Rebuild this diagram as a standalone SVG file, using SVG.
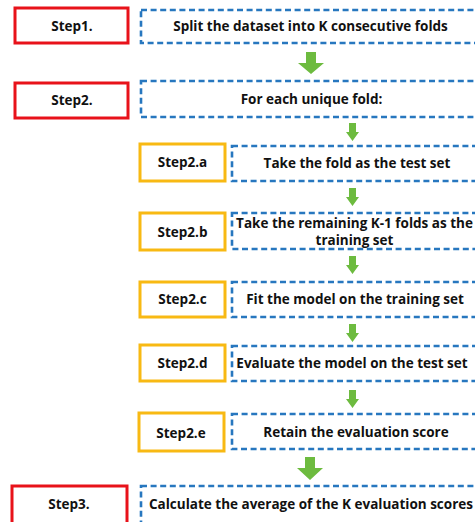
<svg xmlns="http://www.w3.org/2000/svg" width="475" height="522" viewBox="0 0 475 522">
<style>
.red{fill:#fff;stroke:#e8121a;stroke-width:3}
.org{fill:#fff;stroke:#f8b913;stroke-width:3}
.dash{fill:#fff;stroke:#2777bf;stroke-width:2.6;stroke-dasharray:6 3.6}
.t{font-family:"Open Sans","Liberation Sans",sans-serif;font-weight:700;font-size:13.5px;fill:#111;text-anchor:middle;dominant-baseline:central}
.arr{fill:#6dbb3f}
</style>
<rect width="475" height="522" fill="#fff"/>
<g id="connectors">
<polygon class="arr" points="306,52 316,52 316,63 324,63 311,74 298,63 306,63"/>
<polygon class="arr" points="349,123 356,123 356,132 359,132 352.5,141 346,132 349,132"/>
<polygon class="arr" points="349,188 356,188 356,197 359,197 352.5,206 346,197 349,197"/>
<polygon class="arr" points="349,256 356,256 356,265 359,265 352.5,274 346,265 349,265"/>
<polygon class="arr" points="349,324 356,324 356,333 359,333 352.5,342 346,333 349,333"/>
<polygon class="arr" points="349,390 356,390 356,399 359,399 352.5,408 346,399 349,399"/>
<polygon class="arr" points="305,457 315,457 315,468 323,468 310,480 297,468 305,468"/>
</g>
<g id="step1">
<rect class="red" x="15" y="8" width="113" height="35"/>
<text class="t" x="72" y="26">Step1.</text>
</g>
<g id="box1">
<rect class="dash" x="141" y="10" width="345" height="33"/>
<text class="t" x="310.5" y="26">Split the dataset into K consecutive folds</text>
</g>
<g id="step2">
<rect class="red" x="15" y="83" width="113" height="35"/>
<text class="t" x="72" y="100">Step2.</text>
</g>
<g id="box2">
<rect class="dash" x="141" y="81" width="345" height="36"/>
<text class="t" x="311.5" y="99">For each unique fold:</text>
</g>
<g id="step2a">
<rect class="org" x="140" y="144" width="85" height="37"/>
<text class="t" x="182.5" y="162">Step2.a</text>
</g>
<g id="box2a">
<rect class="dash" x="232" y="146" width="254" height="35"/>
<text class="t" x="357" y="163">Take the fold as the test set</text>
</g>
<g id="step2b">
<rect class="org" x="140" y="213" width="85" height="37"/>
<text class="t" x="182.5" y="232">Step2.b</text>
</g>
<g id="box2b">
<rect class="dash" x="232" y="213" width="254" height="36"/>
<text class="t" x="354.5" y="223">Take the remaining K-1 folds as the</text>
<text class="t" x="354.5" y="240">training set</text>
</g>
<g id="step2c">
<rect class="org" x="140" y="282" width="85" height="35"/>
<text class="t" x="182.5" y="299">Step2.c</text>
</g>
<g id="box2c">
<rect class="dash" x="232" y="282" width="254" height="35"/>
<text class="t" x="355" y="299">Fit the model on the training set</text>
</g>
<g id="step2d">
<rect class="org" x="140" y="345" width="85" height="36"/>
<text class="t" x="182.5" y="363">Step2.d</text>
</g>
<g id="box2d">
<rect class="dash" x="232" y="346" width="254" height="35"/>
<text class="t" x="352" y="363">Evaluate the model on the test set</text>
</g>
<g id="step2e">
<rect class="org" x="139" y="413" width="85" height="38"/>
<text class="t" x="181" y="433">Step2.e</text>
</g>
<g id="box2e">
<rect class="dash" x="232" y="414" width="254" height="35"/>
<text class="t" x="356" y="432">Retain the evaluation score</text>
</g>
<g id="step3">
<rect class="red" x="12" y="486" width="115" height="42"/>
<text class="t" x="69" y="504">Step3.</text>
</g>
<g id="box3">
<rect class="dash" x="141" y="486" width="345" height="40"/>
<text class="t" x="311" y="504">Calculate the average of the K evaluation scores</text>
</g>
</svg>
